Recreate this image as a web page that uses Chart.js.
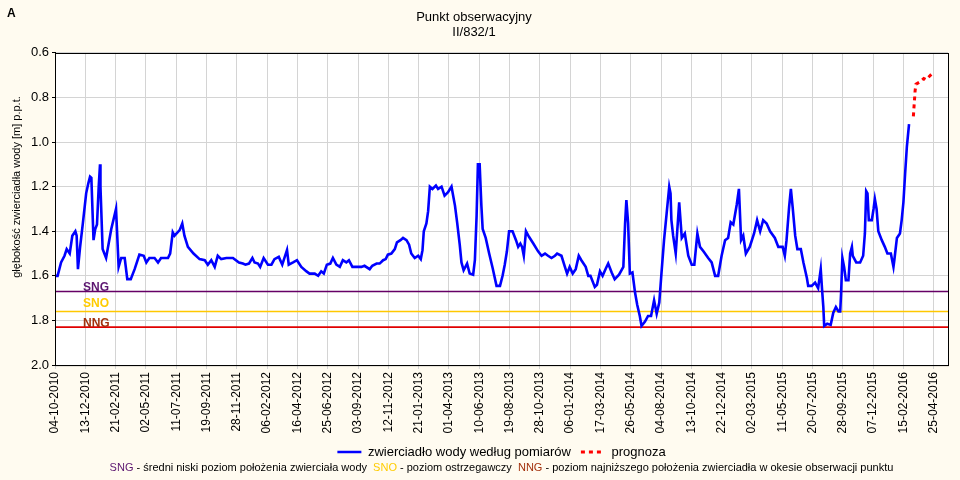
<!DOCTYPE html>
<html lang="pl">
<head>
<meta charset="utf-8">
<title>Punkt obserwacyjny II/832/1</title>
<script src="https://cdn.jsdelivr.net/npm/chart.js@4.4.0/dist/chart.umd.min.js"></script>
<style>
  body { margin: 0; background: #fffbf0; }
  canvas { display: block; }
</style>
</head>
<body>
<canvas id="wykres" width="960" height="480"></canvas>
<script>
// dni liczone od 04-10-2010
const dniPomiaru = [
  1, 6, 14, 22, 27, 34, 40, 47, 50, 53,
  58, 64, 72, 77, 81, 84, 89, 93, 97, 101,
  104, 105, 110, 118, 130, 141, 147, 153, 161, 167,
  175, 184, 195, 205, 211, 218, 230, 238, 245, 261,
  266, 272, 276, 288, 294, 299, 307, 320, 334, 346,
  353, 361, 369, 376, 384, 396, 411, 425, 434, 440,
  448, 456, 461, 469, 474, 482, 492, 500, 507, 517,
  525, 536, 540, 550, 559, 569, 581, 588, 600, 608,
  615, 621, 628, 636, 642, 650, 658, 665, 673, 679,
  687, 696, 708, 715, 727, 733, 743, 750, 758, 764,
  769, 777, 785, 790, 798, 804, 812, 818, 823, 831,
  839, 845, 849, 852, 858, 862, 866, 872, 880, 885,
  893, 900, 908, 916, 924, 929, 935, 939, 944, 952,
  958, 966, 970, 974, 977, 981, 985, 988, 995, 1003,
  1011, 1020, 1028, 1034, 1039, 1044, 1049, 1057, 1065, 1070,
  1075, 1079, 1083, 1088, 1095, 1105, 1116, 1124, 1132, 1139,
  1147, 1155, 1160, 1170, 1178, 1183, 1189, 1196, 1203, 1210,
  1216, 1226, 1232, 1237, 1247, 1252, 1259, 1265, 1273, 1278,
  1286, 1293, 1303, 1313, 1317, 1320, 1324, 1328, 1334, 1340,
  1345, 1351, 1355, 1363, 1370, 1377, 1384, 1390, 1396, 1401,
  1407, 1413, 1419, 1422, 1424, 1428, 1434, 1442, 1448, 1455,
  1463, 1471, 1477, 1484, 1490, 1498, 1509, 1517, 1525, 1532,
  1540, 1548, 1555, 1561, 1567, 1575, 1580, 1585, 1590, 1596,
  1605, 1615, 1622, 1629, 1636, 1644, 1652, 1663, 1671, 1681,
  1686, 1690, 1696, 1700, 1704, 1710, 1715, 1723, 1729, 1737,
  1740, 1748, 1756, 1763, 1769, 1772, 1775, 1777, 1784, 1792,
  1798, 1804, 1810, 1814, 1816, 1819, 1823, 1827, 1833, 1837,
  1841, 1843, 1851, 1860, 1867, 1871, 1874, 1877, 1880, 1887,
  1891, 1894, 1898, 1902, 1910, 1917, 1923, 1931, 1937, 1939,
  1945, 1952, 1956, 1960, 1964, 1968, 1973
];

const glebokosc = [
  1.60, 1.60, 1.54, 1.51, 1.48, 1.50, 1.42, 1.40, 1.42, 1.57,
  1.47, 1.37, 1.23, 1.185, 1.155, 1.16, 1.44, 1.39, 1.37, 1.20,
  1.10, 1.20, 1.48, 1.52, 1.39, 1.30, 1.56, 1.52, 1.52, 1.615,
  1.615, 1.57, 1.505, 1.51, 1.54, 1.52, 1.52, 1.54, 1.52, 1.52,
  1.50, 1.405, 1.42, 1.395, 1.365, 1.42, 1.47, 1.50, 1.525, 1.53,
  1.55, 1.53, 1.56, 1.51, 1.525, 1.52, 1.52, 1.54, 1.545, 1.55,
  1.545, 1.52, 1.54, 1.545, 1.56, 1.52, 1.55, 1.55, 1.525, 1.515,
  1.55, 1.484, 1.55, 1.54, 1.53, 1.56, 1.58, 1.59, 1.59, 1.60,
  1.58, 1.59, 1.55, 1.545, 1.52, 1.55, 1.56, 1.53, 1.54, 1.53,
  1.56, 1.56, 1.56, 1.555, 1.57, 1.555, 1.545, 1.545, 1.53, 1.525,
  1.505, 1.50, 1.48, 1.45, 1.44, 1.43, 1.44, 1.46, 1.50, 1.52,
  1.51, 1.525, 1.485, 1.40, 1.365, 1.31, 1.20, 1.21, 1.195, 1.21,
  1.20, 1.24, 1.225, 1.20, 1.285, 1.36, 1.46, 1.54, 1.575, 1.545,
  1.59, 1.595, 1.53, 1.33, 1.10, 1.10, 1.285, 1.39, 1.43, 1.50,
  1.565, 1.645, 1.645, 1.60, 1.55, 1.49, 1.40, 1.40, 1.44, 1.47,
  1.455, 1.47, 1.51, 1.40, 1.425, 1.455, 1.49, 1.51, 1.50, 1.51,
  1.52, 1.51, 1.50, 1.51, 1.56, 1.59, 1.56, 1.59, 1.57, 1.51,
  1.53, 1.56, 1.60, 1.60, 1.65, 1.64, 1.58, 1.60, 1.565, 1.545,
  1.585, 1.615, 1.595, 1.56, 1.365, 1.26, 1.365, 1.59, 1.585, 1.675,
  1.73, 1.78, 1.825, 1.805, 1.78, 1.78, 1.71, 1.77, 1.72, 1.59,
  1.44, 1.32, 1.20, 1.23, 1.35, 1.42, 1.50, 1.27, 1.43, 1.41,
  1.51, 1.55, 1.55, 1.41, 1.47, 1.49, 1.52, 1.54, 1.60, 1.60,
  1.51, 1.44, 1.43, 1.36, 1.37, 1.28, 1.21, 1.44, 1.42, 1.50,
  1.47, 1.41, 1.35, 1.40, 1.35, 1.365, 1.40, 1.43, 1.47, 1.47,
  1.51, 1.44, 1.29, 1.21, 1.29, 1.42, 1.48, 1.48, 1.54, 1.61,
  1.645, 1.645, 1.63, 1.655, 1.57, 1.66, 1.74, 1.825, 1.815, 1.82,
  1.765, 1.74, 1.76, 1.76, 1.68, 1.52, 1.56, 1.62, 1.62, 1.50,
  1.47, 1.51, 1.54, 1.54, 1.51, 1.41, 1.22, 1.23, 1.35, 1.35,
  1.30, 1.255, 1.30, 1.40, 1.44, 1.47, 1.50, 1.50, 1.56, 1.53,
  1.43, 1.41, 1.35, 1.27, 1.14, 1.02, 0.92
];

const dniPrognozy = [1983, 1987, 1989, 1998, 2007, 2012, 2028];
const prognoza = [0.885, 0.77, 0.74, 0.73, 0.715, 0.72, 0.69];

const etykietyDat = [
  '04-10-2010', '13-12-2010', '21-02-2011', '02-05-2011', '11-07-2011',
  '19-09-2011', '28-11-2011', '06-02-2012', '16-04-2012', '25-06-2012',
  '03-09-2012', '12-11-2012', '21-01-2013', '01-04-2013', '10-06-2013',
  '19-08-2013', '28-10-2013', '06-01-2014', '17-03-2014', '26-05-2014',
  '04-08-2014', '13-10-2014', '22-12-2014', '02-03-2015', '11-05-2015',
  '20-07-2015', '28-09-2015', '07-12-2015', '15-02-2016', '25-04-2016'
];
const krokDni = 70;
const ostatniDzien = 2063;

const poziomyNazwy = ['SNG', 'SNO', 'NNG'];
const poziomyWartosci = [1.67, 1.76, 1.83];
const poziomyOpisy = [
  ' - średni niski poziom położenia zwierciała wody  ',
  ' - poziom ostrzegawczy  ',
  ' - poziom najniższego położenia zwierciadła w okesie obserwacji punktu'
];

const kolorLinii = ['#660066', '#ffc800', '#e00000'];
const kolorNapisu = ['#5c1670', '#ffcc00', '#a3300c'];
const przesuniecieNapisu = [0, 4, 0];
const czcionka = "'Liberation Sans', Arial, sans-serif";

const punkty = dniPomiaru.map(function (d, i) {
  return { x: d, y: glebokosc[i] };
});
const punktyPrognozy = dniPrognozy.map(function (d, i) {
  return { x: d, y: prognoza[i] };
});

const datasets = [
  {
    label: 'zwierciadło wody według pomiarów',
    data: punkty,
    borderColor: '#0000ff',
    backgroundColor: '#0000ff',
    borderWidth: 2.6,
    pointRadius: 0,
    tension: 0
  },
  {
    label: 'prognoza',
    data: punktyPrognozy,
    borderColor: '#ff0000',
    backgroundColor: '#ff0000',
    borderWidth: 3,
    borderDash: [4, 4],
    pointRadius: 0,
    tension: 0
  }
];
poziomyWartosci.forEach(function (v, i) {
  datasets.push({
    label: poziomyNazwy[i],
    data: [{ x: 0, y: v }, { x: ostatniDzien, y: v }],
    borderColor: kolorLinii[i],
    backgroundColor: kolorLinii[i],
    borderWidth: 1.6,
    pointRadius: 0,
    fill: false
  });
});

const dodatki = {
  id: 'dodatki',
  beforeDraw(chart) {
    const { ctx, chartArea: a } = chart;
    ctx.save();
    ctx.fillStyle = '#ffffff';
    ctx.fillRect(a.left, a.top, a.right - a.left, a.bottom - a.top);
    ctx.restore();
  },
  afterDatasetsDraw(chart) {
    const { ctx, chartArea: a } = chart;
    const y = chart.scales.y;
    ctx.save();
    ctx.font = 'bold 12px ' + czcionka;
    ctx.textBaseline = 'alphabetic';
    poziomyNazwy.forEach(function (n, i) {
      ctx.fillStyle = kolorNapisu[i];
      ctx.fillText(n, a.left + 28, y.getPixelForValue(poziomyWartosci[i]) - przesuniecieNapisu[i]);
    });
    ctx.restore();
  },
  afterDraw(chart) {
    const { ctx, chartArea: a } = chart;
    ctx.save();
    ctx.strokeStyle = '#000';
    ctx.lineWidth = 1;
    ctx.strokeRect(Math.round(a.left) + 0.5, Math.round(a.top) + 0.5, a.right - a.left, a.bottom - a.top);

    ctx.fillStyle = '#000';
    ctx.font = 'bold 12px ' + czcionka;
    ctx.textBaseline = 'middle';
    ctx.fillText('A', 7, 14);

    ctx.font = '11px ' + czcionka;
    ctx.translate(17, 187);
    ctx.rotate(-Math.PI / 2);
    ctx.textAlign = 'center';
    ctx.fillText('głębokość zwierciadła wody [m] p.p.t.', 0, 0);
    ctx.restore();

    ctx.save();
    ctx.font = '11px ' + czcionka;
    ctx.textBaseline = 'middle';
    let czesci = [];
    poziomyNazwy.forEach(function (n, i) {
      czesci.push([n, kolorNapisu[i]]);
      czesci.push([poziomyOpisy[i], '#000']);
    });
    let szer = 0;
    czesci.forEach(function (c) { szer += ctx.measureText(c[0]).width; });
    let x = (a.left + a.right) / 2 - szer / 2;
    czesci.forEach(function (c) {
      ctx.fillStyle = c[1];
      ctx.fillText(c[0], x, 468);
      x += ctx.measureText(c[0]).width;
    });
    ctx.restore();
  }
};

const ctx = document.getElementById('wykres');
const wykres = new Chart(ctx, {
  type: 'line',
  data: { datasets: datasets },
  plugins: [dodatki],
  options: {
    responsive: false,
    animation: false,
    layout: { padding: { top: 0, right: 12, bottom: 11.5, left: 0 } },
    scales: {
      x: {
        type: 'linear',
        min: 0,
        max: ostatniDzien,
        afterFit: function (s) { s.height = 70.5; },
        ticks: {
          stepSize: krokDni,
          includeBounds: false,
          autoSkip: false,
          minRotation: 90,
          maxRotation: 90,
          padding: 3,
          color: '#000',
          font: { size: 12, family: czcionka },
          callback: function (v) {
            const i = v / krokDni;
            return Number.isInteger(i) ? etykietyDat[i] : '';
          }
        },
        grid: { color: '#d4d4d4', tickColor: '#d4d4d4', tickLength: 4 },
        border: { color: '#000' }
      },
      y: {
        reverse: true,
        min: 0.6,
        max: 2.0,
        afterFit: function (s) { s.width = 55; },
        ticks: {
          stepSize: 0.2,
          padding: 3,
          color: '#000',
          font: { size: 13, family: czcionka },
          callback: function (v) { return Number(v).toFixed(1); }
        },
        grid: { color: '#d4d4d4', tickColor: '#000', tickLength: 3 },
        border: { color: '#000' }
      }
    },
    plugins: {
      title: {
        display: true,
        text: ['Punkt obserwacyjny', 'II/832/1'],
        color: '#000',
        font: { size: 13, weight: 'normal', family: czcionka, lineHeight: 1.15 },
        padding: { top: 10, bottom: 13 }
      },
      legend: {
        position: 'bottom',
        fullSize: false,
        labels: {
          usePointStyle: true,
          pointStyle: 'line',
          pointStyleWidth: 24,
          padding: 10,
          color: '#000',
          font: { size: 13, family: czcionka },
          generateLabels: function (chart) {
            const items = Chart.defaults.plugins.legend.labels.generateLabels(chart);
            items.forEach(function (it) {
              const ds = chart.data.datasets[it.datasetIndex];
              it.lineDash = ds.borderDash || [];
              it.lineWidth = ds.borderWidth;
            });
            return items;
          },
          filter: function (item) { return item.datasetIndex < 2; }
        }
      },
      tooltip: { enabled: false }
    }
  }
});
</script>
</body>
</html>
